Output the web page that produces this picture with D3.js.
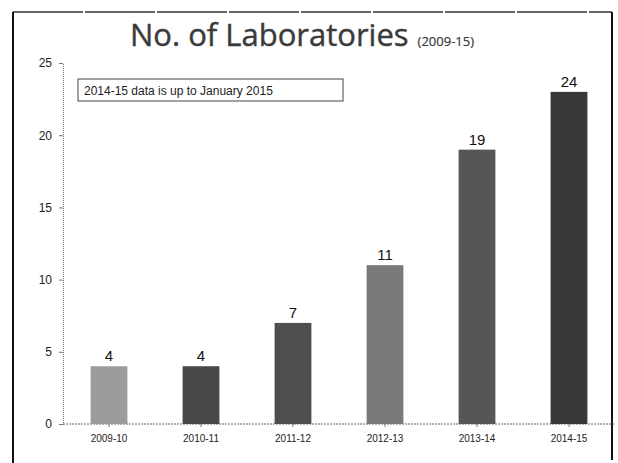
<!DOCTYPE html>
<html><head><meta charset="utf-8">
<script src="https://cdn.jsdelivr.net/npm/d3@7"></script>
<style>
body{margin:0;background:#fff;}
svg{display:block;}
</style></head>
<body><svg id="c" width="618" height="463"></svg>
<script>
const categories = ["2009-10","2010-11","2011-12","2012-13","2013-14","2014-15"];
const values = [4,4,7,11,19,23];
const valueLabels = ["4","4","7","11","19","24"];
const barColors = ["#9c9c9c","#484848","#4e4e4e","#7a7a7a","#565656","#383838"];
const yTicks = [0,5,10,15,20,25];

const svg = d3.select("#c");
const m = {left:63, right:3, top:63, bottom:39};
const W = 618, H = 463;

// frame
svg.append("line").attr("x1",13).attr("x2",612).attr("y1",12).attr("y2",12)
  .attr("stroke","#333").attr("stroke-width",1.5).attr("stroke-dasharray","70,2");
svg.append("line").attr("x1",13).attr("x2",13).attr("y1",12).attr("y2",463)
  .attr("stroke","#111").attr("stroke-width",2);
svg.append("line").attr("x1",612).attr("x2",612).attr("y1",12).attr("y2",460)
  .attr("stroke","#111").attr("stroke-width",2);

const x = d3.scaleBand().domain(categories).range([m.left, W - m.right]).paddingInner(0.6).paddingOuter(0.3);
const y = d3.scaleLinear().domain([0,25]).range([H - m.bottom, m.top]);

// y axis
const ya = svg.append("g").attr("transform",`translate(${m.left},0)`)
  .call(d3.axisLeft(y).tickValues(yTicks).tickSize(4).tickPadding(7));
ya.select(".domain").attr("stroke","#777").attr("stroke-dasharray","1,1");
ya.selectAll(".tick line").attr("stroke","#777");
ya.selectAll("text").attr("font-family","Liberation Sans, Arial").attr("font-size",12).attr("fill","#222");

// x axis
const xa = svg.append("g").attr("transform",`translate(0,${y(0)})`)
  .call(d3.axisBottom(x).tickSize(3).tickPadding(8));
xa.select(".domain").attr("stroke","#666").attr("stroke-dasharray","2,1")
  .attr("d",`M${m.left},0H${W-4}`);
xa.selectAll(".tick line").attr("stroke","#777");
xa.selectAll("text").attr("font-family","Liberation Sans, Arial").attr("font-size",10).attr("fill","#222");

// bars
svg.selectAll("rect.bar").data(categories).join("rect").attr("class","bar")
  .attr("x",d=>x(d)).attr("width",x.bandwidth())
  .attr("y",(d,i)=>y(values[i])).attr("height",(d,i)=>y(0)-y(values[i]))
  .attr("fill",(d,i)=>barColors[i]);

// value labels
svg.selectAll("text.val").data(categories).join("text").attr("class","val")
  .attr("x",d=>x(d)+x.bandwidth()/2).attr("y",(d,i)=>y(values[i])-5)
  .attr("text-anchor","middle").attr("font-family","Liberation Sans, Arial")
  .attr("font-size",15).attr("fill","#111")
  .text((d,i)=>valueLabels[i]);

// title
const t = svg.append("text").attr("x",302).attr("y",46).attr("text-anchor","middle")
  .attr("font-family","Open Sans, Lato, sans-serif").attr("fill","#3a3a3a")
  .attr("stroke","#3a3a3a").attr("stroke-width",0.4);
t.append("tspan").attr("font-size",31).text("No. of Laboratories");
t.append("tspan").attr("font-size",13).attr("dx",9).attr("stroke-width",0.2).text("(2009-15)");

// note box
svg.append("rect").attr("x",78).attr("y",79).attr("width",265).attr("height",22)
  .attr("fill","#fff").attr("stroke","#444").attr("stroke-width",1);
svg.append("text").attr("x",84).attr("y",95).attr("font-family","Liberation Sans, Arial")
  .attr("font-size",12).attr("fill","#222").text("2014-15 data is up to January 2015");
</script></body></html>
